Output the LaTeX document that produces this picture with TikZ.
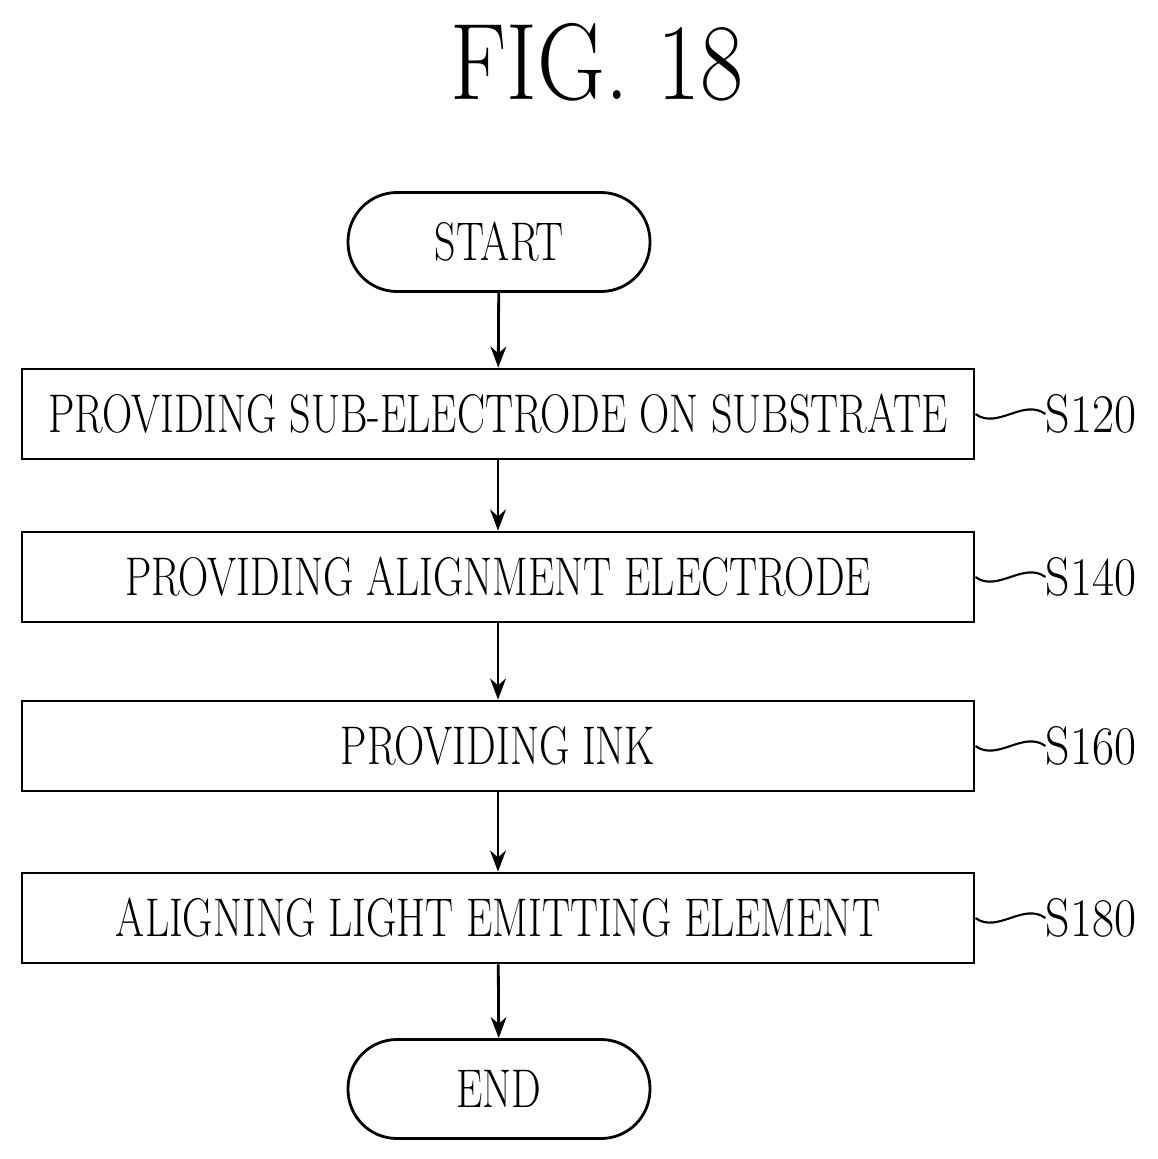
\documentclass[tikz,border=0pt]{standalone}
\usetikzlibrary{arrows.meta}
\newcommand{\narrow}[2][0.77]{\scalebox{#1}[1]{#2}}
\tikzset{
  stage/.style={draw, line width=1.6pt, minimum width=952*0.02cm, minimum height=90*0.02cm, font=\fontsize{31}{31}\selectfont},
  term/.style={draw, line width=1.6pt, rounded corners=49*0.02cm, minimum width=302*0.02cm, minimum height=99*0.02cm, font=\fontsize{31}{31}\selectfont},
  flow/.style={line width=1.6pt, -{Stealth[length=12pt,width=9pt]}},
  tag/.style={font=\fontsize{31}{31}\selectfont, anchor=west, inner sep=0pt}
}
\begin{document}
\begin{tikzpicture}[x=0.02cm,y=-0.02cm]
\useasboundingbox (0,0) rectangle (1157,1159);
\node (title) at (597,62) {\fontsize{62}{62}\selectfont\narrow[0.86]{FIG. 18}};

\node (start) at (499,242) [term] {\narrow{START}};
\node (s120) at (498,414) [stage] {\narrow{PROVIDING SUB-ELECTRODE ON SUBSTRATE}};
\node (s140) at (498,577) [stage] {\narrow{PROVIDING ALIGNMENT ELECTRODE}};
\node (s160) at (498,746) [stage] {\narrow{PROVIDING INK}};
\node (s180) at (498,918) [stage] {\narrow{ALIGNING LIGHT EMITTING ELEMENT}};
\node (end) at (499,1089) [term] {\narrow{END}};

\foreach \a/\b in {start/s120, s120/s140, s140/s160, s160/s180, s180/end}
  \draw[flow] (\a) -- (\b);

\foreach \n/\t in {s120/S120, s140/S140, s160/S160, s180/S180}{
  \node (l\n) [tag] at ([xshift=70*0.02cm]\n.east) {\narrow[0.88]{\t}};
  \draw[line width=1.2pt] (\n.east) .. controls +(22*0.02cm,-16*0.02cm) and +(-22*0.02cm,16*0.02cm) .. (l\n.west);
}
\end{tikzpicture}
\end{document}
